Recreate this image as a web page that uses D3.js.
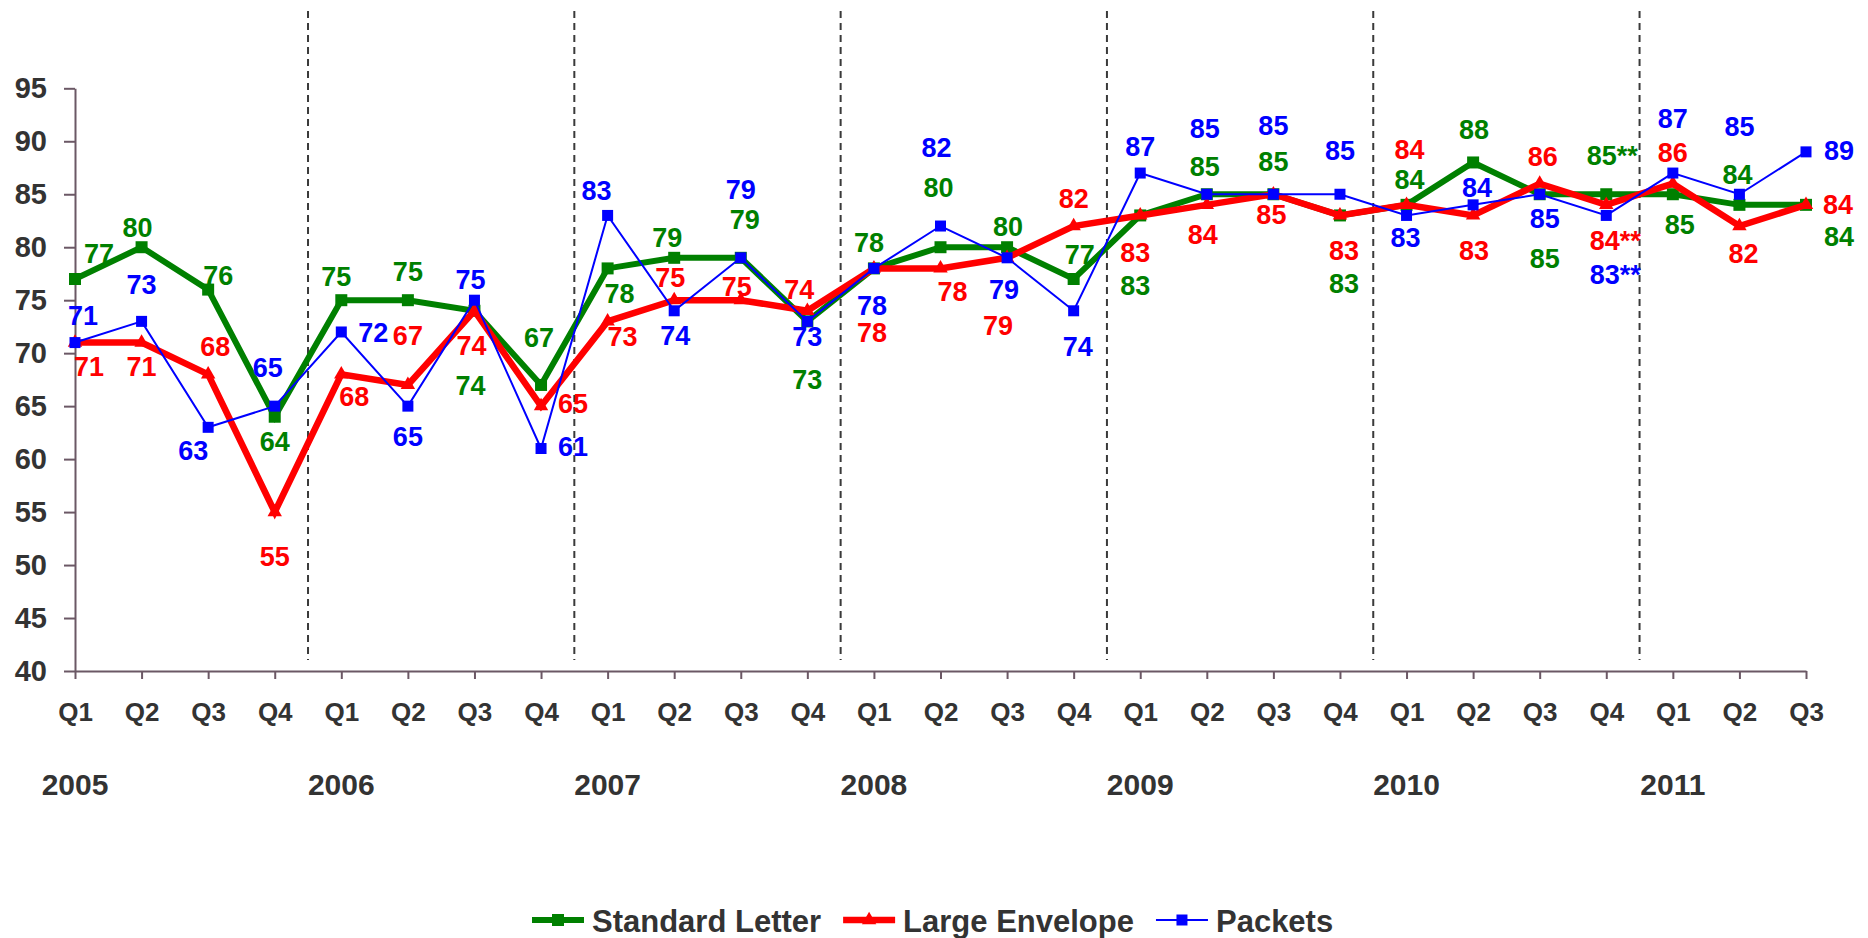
<!DOCTYPE html>
<html>
<head>
<meta charset="utf-8">
<script src="https://cdn.jsdelivr.net/npm/d3@7"></script>
<style>
  html, body { margin: 0; padding: 0; background: #ffffff; }
  svg { display: block; font-family: "Liberation Sans", Arial, sans-serif; font-weight: bold; }
</style>
</head>
<body>
<svg id="chart" width="1868" height="938"></svg>
<script>
// ---------------- DATA ----------------
const quarters = ["Q1","Q2","Q3","Q4","Q1","Q2","Q3","Q4","Q1","Q2","Q3","Q4","Q1","Q2","Q3","Q4",
                  "Q1","Q2","Q3","Q4","Q1","Q2","Q3","Q4","Q1","Q2","Q3"];
const years = ["2005","2006","2007","2008","2009","2010","2011"];
const yTicks = [40,45,50,55,60,65,70,75,80,85,90,95];

const standardLetter = [77,80,76,64,75,75,74,67,78,79,79,73,78,80,80,77,83,85,85,83,84,88,85,85,85,84,84];
const largeEnvelope  = [71,71,68,55,68,67,74,65,73,75,75,74,78,78,79,82,83,84,85,83,84,83,86,84,86,82,84];
const packets        = [71,73,63,65,72,65,75,61,83,74,79,73,78,82,79,74,87,85,85,85,83,84,85,83,87,85,89];
// note suffix on the value labels (Q4 2010 marked **)
const valueNotes = ["","","","","","","","","","","","","","","","","","","","","","","","**","","",""];

const seriesNames = ["Standard Letter","Large Envelope","Packets"];

// ---------------- LAYOUT (label offsets from each point, px) ----------------
const standardLetterLabelPos = [[24,-26],[-4,-20],[10,-14],[0,25],[-5,-24],[0,-29],[-4,74],[-2,-48],[12,25],[-7,-21],
  [4,-39],[0,58],[-5,-26],[-2,-60],[1,-21],[6,-25],[-5,70],[-2,-28],[0,-33],[4,68],[3,-26],[1,-33],[5,64],[6,-39],
  [7,30],[-2,-31],[33,31]];
const largeEnvelopeLabelPos = [[14,24],[0,24],[7,-28],[0,44],[13,22],[0,-50],[-3,34],[32,-3],[15,15],[-4,-23],
  [-4,-14],[-8,-22],[-2,64],[12,23],[-9,67],[0,-28],[-5,37],[-4,29],[-2,20],[4,35],[3,-56],[1,35],[3,-27],[9,35],
  [0,-31],[4,27],[32,-1]];
const packetsLabelPos = [[8,-27],[0,-37],[-15,23],[-7,-39],[32,0],[0,30],[-4,-21],[32,-2],[-11,-25],[1,24],
  [0,-69],[0,15],[-2,37],[-4,-79],[-3,31],[4,35],[0,-27],[-2,-66],[0,-69],[0,-44],[-1,22],[4,-18],[5,24],[9,59],
  [0,-55],[0,-68],[33,-2]];

// ---------------- CHART ----------------
const svg = d3.select("#chart");
const x = d3.scalePoint().domain(d3.range(quarters.length)).range([75, 1806]);
const y = d3.scaleLinear().domain([40, 95]).range([671, 88.3]);
const axisColor = "#6b5865";
const textColor = "#333333";

// year separator dashed lines
const yearStarts = quarters.map((q,i)=>q==="Q1"?i:-1).filter(i=>i>0);
svg.append("g").selectAll("line").data(yearStarts).join("line")
  .attr("x1", i => (x(i-1)+x(i))/2).attr("x2", i => (x(i-1)+x(i))/2)
  .attr("y1", 11).attr("y2", 660)
  .attr("stroke", "#3a3a3a").attr("stroke-width", 2).attr("stroke-dasharray", "7,5");

// axes
const yAxis = svg.append("g").attr("transform", "translate(75,0)")
  .call(d3.axisLeft(y).tickValues(yTicks).tickSize(11).tickSizeOuter(0).tickPadding(17).tickFormat(d3.format("d")));
const xAxis = svg.append("g").attr("transform", "translate(0,671)")
  .call(d3.axisBottom(x).tickSize(8).tickSizeOuter(0).tickPadding(24).tickFormat(i => quarters[i]));
[yAxis, xAxis].forEach(g => {
  g.selectAll("path.domain").attr("stroke", axisColor).attr("stroke-width", 2);
  g.selectAll(".tick line").attr("stroke", axisColor).attr("stroke-width", 2);
  g.selectAll(".tick text").attr("fill", textColor).attr("font-family", "Liberation Sans, Arial, sans-serif")
    .attr("font-weight", "bold");
});
yAxis.selectAll(".tick text").attr("font-size", 29);
xAxis.selectAll(".tick text").attr("font-size", 26);

// year labels under first quarter
svg.append("g").selectAll("text").data(years).join("text")
  .attr("x", (d,k) => x(quarters.map((q,i)=>q==="Q1"?i:-1).filter(i=>i>=0)[k]))
  .attr("y", 795)
  .attr("text-anchor", "middle").attr("font-size", 30).attr("fill", textColor)
  .text(d => d);

// series
const series = [
  {name: seriesNames[0], values: standardLetter, color: "#008000", width: 6, marker: d3.symbolSquare, msize: 144, pos: standardLetterLabelPos},
  {name: seriesNames[1], values: largeEnvelope,  color: "#ff0000", width: 6.5, marker: d3.symbolTriangle, msize: 90, pos: largeEnvelopeLabelPos},
  {name: seriesNames[2], values: packets,        color: "#0000ff", width: 2, marker: d3.symbolSquare, msize: 121, pos: packetsLabelPos}
];

const line = d3.line().x((d,i) => x(i)).y(d => y(d));
series.forEach(s => {
  const g = svg.append("g");
  g.append("path").datum(s.values).attr("d", line)
    .attr("fill", "none").attr("stroke", s.color).attr("stroke-width", s.width).attr("stroke-linejoin", "miter");
  g.selectAll("path.m").data(s.values).join("path").attr("class","m")
    .attr("d", d3.symbol().type(s.marker).size(s.msize))
    .attr("transform", (d,i) => `translate(${x(i)},${y(d)})`)
    .attr("fill", s.color);
});
// value labels (drawn after all lines)
series.forEach(s => {
  svg.append("g").selectAll("text").data(s.values).join("text")
    .attr("x", (d,i) => x(i) + s.pos[i][0])
    .attr("y", (d,i) => y(d) + s.pos[i][1])
    .attr("dy", "0.36em")
    .attr("text-anchor", "middle").attr("font-size", 27).attr("fill", s.color)
    .text((d,i) => d + valueNotes[i]);
});

// legend
const legend = svg.append("g").attr("transform", "translate(532,920)");
let lx = 0;
series.forEach(s => {
  const item = legend.append("g").attr("transform", `translate(${lx},0)`);
  item.append("line").attr("x1", 0).attr("x2", 52).attr("y1", 0).attr("y2", 0)
    .attr("stroke", s.color).attr("stroke-width", s.width);
  item.append("path").attr("d", d3.symbol().type(s.marker).size(s.msize))
    .attr("transform", "translate(26,0)").attr("fill", s.color);
  const t = item.append("text").attr("x", 60).attr("y", 11.5)
    .attr("font-size", 31).attr("fill", textColor).text(s.name);
  lx += 60 + t.node().getComputedTextLength() + 22;
});
</script>
</body>
</html>
